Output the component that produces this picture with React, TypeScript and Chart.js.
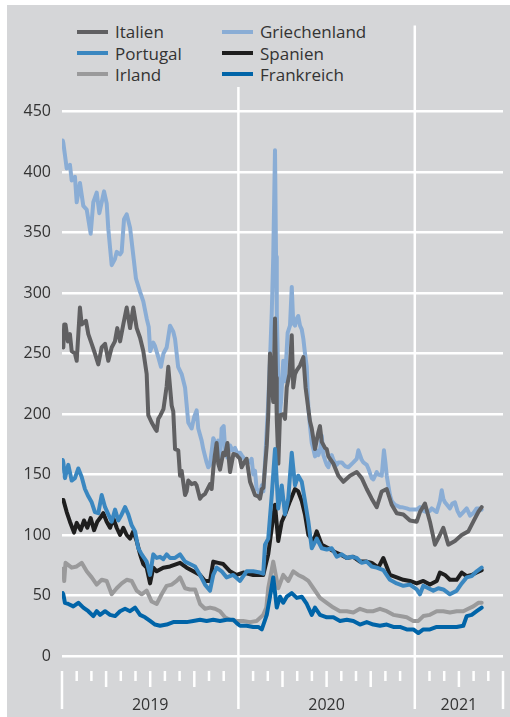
import React, { useEffect, useRef } from "react";
import { Chart, registerables } from "chart.js";

Chart.register(...registerables);

// x = months since 1 Jan 2019, y = spread value
const italien: [number, number][] = [
  [0.05, 258], [0.09, 255], [0.15, 274], [0.24, 274], [0.4, 260], [0.54, 266], [0.66, 252], [0.88, 250], [1.0, 244],
  [1.22, 288], [1.34, 274], [1.63, 277], [1.79, 266], [2.02, 258], [2.24, 250], [2.47, 241], [2.7, 255], [2.93, 258],
  [3.15, 244], [3.38, 255], [3.6, 260], [3.76, 271], [3.95, 260], [4.17, 274], [4.4, 288], [4.63, 271], [4.85, 288],
  [5.08, 271], [5.31, 263], [5.53, 252], [5.76, 233], [5.87, 199], [6.1, 193], [6.33, 188], [6.44, 186], [6.55, 196],
  [6.7, 199], [6.9, 204], [7.12, 223], [7.23, 239], [7.46, 207], [7.57, 202], [7.69, 171], [7.91, 170], [8.03, 149],
  [8.14, 153], [8.37, 133], [8.48, 136], [8.59, 145], [8.82, 142], [9.05, 143], [9.16, 141], [9.39, 130], [9.5, 132],
  [9.73, 134], [10.07, 142], [10.18, 138], [10.3, 156], [10.41, 167], [10.52, 176], [10.63, 159], [10.75, 154],
  [10.97, 168], [11.09, 166], [11.25, 176], [11.43, 152], [11.66, 167], [11.88, 166], [12.1, 163], [12.22, 156],
  [12.4, 160], [12.56, 163], [12.79, 144], [13.01, 137], [13.13, 133], [13.35, 132], [13.47, 130], [13.59, 138],
  [13.7, 139], [13.93, 174], [14.03, 199], [14.15, 250], [14.27, 225], [14.37, 210], [14.49, 279], [14.56, 230],
  [14.61, 196], [14.72, 159], [14.83, 199], [15.05, 200], [15.17, 196], [15.29, 222], [15.47, 233], [15.63, 265],
  [15.73, 222], [15.85, 233], [15.97, 236], [16.19, 240], [16.42, 247], [16.57, 222], [16.76, 204], [16.87, 194],
  [16.99, 188], [17.21, 171], [17.44, 185], [17.55, 190], [17.67, 177], [17.89, 172], [18.01, 171], [18.12, 165],
  [18.46, 159], [18.8, 149], [19.14, 144], [19.59, 149], [20.05, 152], [20.39, 147], [20.73, 138], [21.07, 130],
  [21.41, 123], [21.75, 136], [22.09, 138], [22.43, 125], [22.77, 118], [23.22, 117], [23.67, 112], [24.13, 111],
  [24.35, 119], [24.69, 126], [25.03, 111], [25.37, 92], [25.71, 100], [25.94, 106], [26.28, 92], [26.73, 95],
  [27.19, 100], [27.64, 103], [27.98, 111], [28.32, 119], [28.55, 123],
];

const griechenland: [number, number][] = [
  [0.05, 426], [0.09, 424], [0.2, 414], [0.32, 403], [0.54, 406], [0.66, 393], [0.88, 396], [1.0, 375], [1.22, 391],
  [1.45, 372], [1.68, 369], [1.95, 349], [2.13, 375], [2.36, 383], [2.54, 366], [2.7, 375], [2.86, 384], [3.04, 374],
  [3.15, 353], [3.38, 323], [3.6, 328], [3.72, 334], [3.95, 332], [4.06, 334], [4.22, 361], [4.4, 365], [4.63, 354],
  [4.85, 331], [5.03, 312], [5.31, 301], [5.53, 293], [5.76, 279], [5.9, 272], [6.0, 252], [6.21, 259], [6.33, 256],
  [6.55, 247], [6.73, 239], [6.9, 250], [7.12, 255], [7.35, 273], [7.57, 268], [7.69, 262], [7.9, 239], [8.14, 233],
  [8.37, 222], [8.59, 193], [8.82, 188], [9.0, 198], [9.16, 203], [9.27, 188], [9.5, 178], [9.61, 171], [9.84, 160],
  [9.95, 156], [10.07, 158], [10.29, 180], [10.52, 174], [10.63, 178], [10.75, 160], [10.86, 188], [11.0, 190],
  [11.1, 170], [11.25, 164], [11.43, 174], [11.6, 170], [11.77, 172], [11.9, 168], [12.11, 168], [12.22, 166],
  [12.4, 163], [12.55, 162], [12.79, 160], [12.9, 163], [13.01, 150], [13.13, 153], [13.24, 138], [13.35, 137],
  [13.47, 132], [13.59, 141], [13.7, 136], [13.81, 160], [13.93, 187], [14.03, 210], [14.15, 245], [14.27, 284],
  [14.37, 330], [14.49, 418], [14.56, 330], [14.61, 284], [14.74, 216], [14.83, 202], [14.9, 210], [15.05, 244],
  [15.17, 227], [15.35, 267], [15.51, 273], [15.63, 305], [15.73, 275], [15.85, 273], [15.97, 279], [16.07, 281],
  [16.19, 273], [16.31, 270], [16.42, 262], [16.53, 250], [16.65, 239], [16.76, 205], [16.87, 190], [16.99, 176],
  [17.1, 171], [17.21, 165], [17.33, 170], [17.44, 166], [17.55, 170], [17.67, 182], [17.78, 166], [17.89, 162],
  [18.01, 158], [18.12, 156], [18.35, 166], [18.46, 162], [18.69, 158], [18.8, 160], [19.03, 160], [19.25, 157],
  [19.48, 156], [19.82, 160], [20.05, 163], [20.16, 170], [20.39, 162], [20.5, 160], [20.73, 158], [20.84, 155],
  [21.07, 147], [21.18, 146], [21.41, 152], [21.52, 150], [21.75, 149], [21.9, 170], [22.0, 160], [22.09, 149],
  [22.31, 133], [22.43, 128], [22.65, 125], [22.99, 123], [23.11, 123], [23.45, 122], [23.67, 121], [24.01, 121],
  [24.13, 121], [24.35, 123], [24.58, 120], [24.81, 119], [25.03, 120], [25.15, 122], [25.37, 120], [25.49, 119],
  [25.71, 128], [25.83, 137], [25.94, 130], [26.05, 127], [26.39, 122], [26.56, 126], [26.73, 127], [26.9, 120],
  [27.07, 116], [27.3, 119], [27.53, 122], [27.76, 116], [27.98, 118], [28.21, 122], [28.32, 122], [28.55, 121],
];

const portugal: [number, number][] = [
  [0.05, 162], [0.09, 160], [0.2, 147], [0.43, 158], [0.66, 145], [0.88, 147], [1.11, 155], [1.34, 148], [1.56, 138],
  [1.79, 132], [2.02, 127], [2.24, 119], [2.47, 118], [2.7, 133], [2.93, 123], [3.15, 117], [3.38, 111], [3.61, 121],
  [3.83, 112], [4.06, 117], [4.29, 123], [4.51, 117], [4.74, 108], [4.97, 103], [5.19, 89], [5.42, 84], [5.76, 78],
  [5.99, 67], [6.21, 84], [6.44, 81], [6.67, 82], [6.89, 80], [7.12, 84], [7.35, 81], [7.69, 81], [8.03, 84],
  [8.37, 78], [8.71, 76], [9.05, 74], [9.39, 67], [9.73, 59], [10.07, 54], [10.29, 67], [10.52, 73], [10.86, 70],
  [11.2, 65], [11.65, 67], [12.11, 62], [12.56, 70], [13.01, 70], [13.47, 69], [13.69, 68], [13.81, 92], [14.03, 97],
  [14.27, 133], [14.49, 171], [14.71, 122], [14.95, 141], [15.17, 117], [15.39, 130], [15.63, 168], [15.85, 141],
  [16.07, 149], [16.31, 144], [16.53, 128], [16.76, 111], [16.99, 89], [17.33, 97], [17.67, 89], [18.01, 88],
  [18.35, 89], [18.69, 82], [19.03, 84], [19.37, 81], [19.71, 82], [20.05, 81], [20.39, 77], [20.73, 78], [21.07, 74],
  [21.41, 73], [21.86, 71], [22.31, 63], [22.77, 60], [23.22, 58], [23.67, 59], [24.13, 55], [24.35, 51], [24.58, 58],
  [24.92, 56], [25.26, 54], [25.6, 56], [25.94, 55], [26.39, 51], [26.85, 54], [27.19, 60], [27.53, 65], [27.87, 66],
  [28.21, 70], [28.55, 73],
];

const spanien: [number, number][] = [
  [0.05, 129], [0.09, 129], [0.32, 119], [0.54, 111], [0.82, 102], [1.0, 110], [1.27, 104], [1.5, 112], [1.72, 106],
  [1.95, 114], [2.18, 104], [2.4, 111], [2.59, 114], [2.81, 118], [3.04, 111], [3.27, 106], [3.49, 114], [3.72, 106],
  [3.95, 100], [4.17, 106], [4.4, 100], [4.63, 97], [4.85, 103], [5.08, 95], [5.31, 84], [5.53, 76], [5.76, 73],
  [5.99, 60], [6.21, 73], [6.44, 70], [6.89, 73], [7.35, 74], [8.03, 77], [8.48, 73], [8.93, 70], [9.39, 67],
  [9.73, 62], [10.07, 62], [10.29, 78], [10.63, 77], [10.97, 76], [11.43, 70], [11.88, 67], [12.33, 69], [13.01, 67],
  [13.47, 67], [13.69, 67], [14.03, 84], [14.27, 106], [14.49, 125], [14.71, 95], [14.95, 111], [15.17, 117],
  [15.51, 128], [15.85, 138], [16.07, 136], [16.31, 128], [16.53, 117], [16.76, 100], [17.1, 95], [17.33, 103],
  [17.67, 92], [18.12, 89], [18.57, 86], [18.91, 84], [19.37, 81], [19.82, 82], [20.27, 78], [20.73, 78], [21.07, 77],
  [21.52, 73], [21.86, 81], [22.31, 67], [22.77, 65], [23.22, 63], [23.67, 62], [24.13, 60], [24.58, 62], [25.03, 59],
  [25.49, 62], [25.71, 69], [26.05, 67], [26.39, 63], [26.85, 63], [27.19, 69], [27.53, 66], [27.87, 67], [28.21, 69],
  [28.55, 71],
];

const irland: [number, number][] = [
  [0.05, 72], [0.09, 71], [0.15, 62], [0.24, 77], [0.66, 73], [1.0, 74], [1.34, 77], [1.68, 70], [2.02, 65], [2.36, 59],
  [2.7, 63], [3.04, 62], [3.38, 51], [3.72, 56], [4.06, 60], [4.4, 63], [4.74, 62], [5.08, 54], [5.42, 51], [5.76, 54],
  [6.1, 45], [6.44, 43], [6.78, 51], [7.12, 58], [7.46, 59], [7.8, 62], [8.03, 65], [8.37, 56], [8.71, 55], [9.05, 55],
  [9.39, 43], [9.73, 39], [10.07, 40], [10.41, 39], [10.75, 37], [11.09, 32], [11.43, 30], [11.88, 29], [12.33, 29],
  [12.79, 28], [13.24, 29], [13.69, 34], [13.9, 40], [14.03, 56], [14.37, 78], [14.71, 56], [15.05, 67], [15.39, 62],
  [15.73, 70], [16.07, 67], [16.41, 65], [16.76, 62], [17.1, 56], [17.55, 48], [18.01, 44], [18.46, 40], [18.91, 37],
  [19.37, 37], [19.82, 36], [20.27, 39], [20.73, 37], [21.18, 37], [21.63, 39], [22.09, 37], [22.54, 34], [22.99, 33],
  [23.45, 32], [23.9, 29], [24.24, 29], [24.58, 33], [25.03, 34], [25.49, 37], [25.94, 37], [26.39, 36], [26.85, 37],
  [27.3, 37], [27.64, 39], [27.98, 41], [28.32, 44], [28.55, 44],
];

const frankreich: [number, number][] = [
  [0.05, 52], [0.09, 51], [0.2, 44], [0.43, 43], [0.77, 41], [1.11, 44], [1.45, 40], [1.79, 37], [2.13, 33], [2.36, 37],
  [2.59, 34], [2.93, 37], [3.27, 34], [3.61, 33], [3.95, 37], [4.29, 39], [4.63, 37], [4.97, 40], [5.31, 34], [5.65, 32],
  [5.99, 29], [6.33, 26], [6.67, 25], [7.12, 26], [7.57, 28], [8.03, 28], [8.48, 28], [8.93, 29], [9.39, 30], [9.84, 29],
  [10.29, 30], [10.75, 29], [11.2, 30], [11.65, 30], [11.9, 27], [12.11, 25], [12.56, 25], [13.01, 24], [13.35, 24],
  [13.59, 22], [13.93, 34], [14.15, 49], [14.37, 65], [14.61, 40], [14.83, 49], [15.05, 44], [15.29, 49], [15.63, 52],
  [15.97, 48], [16.31, 49], [16.65, 43], [16.99, 34], [17.21, 40], [17.55, 34], [18.01, 32], [18.46, 32], [18.91, 29],
  [19.37, 30], [19.82, 29], [20.27, 26], [20.73, 28], [21.18, 26], [21.63, 25], [22.09, 26], [22.54, 24], [22.99, 24],
  [23.45, 22], [23.9, 22], [24.24, 19], [24.58, 22], [25.03, 22], [25.49, 24], [25.94, 24], [26.39, 24], [26.85, 24],
  [27.3, 25], [27.53, 33], [27.87, 34], [28.21, 37], [28.55, 40],
];

const yTicks = [0, 50, 100, 150, 200, 250, 300, 350, 400, 450];
const xMin = 0;
const xMax = 30;
const yMax = 521;
const yearLabels = ["2019", "2020", "2021"];
const yearCenters = [6, 18, 27];

const BG = "#d5d6d8";
const TEXT = "#333333";
const FONT = "'Open Sans', 'Noto Sans', sans-serif";

const series = [
  { name: "Italien", data: italien, color: "#606062", order: 5 },
  { name: "Portugal", data: portugal, color: "#3a87c0", order: 2 },
  { name: "Irland", data: irland, color: "#9a9a9b", order: 4 },
  { name: "Griechenland", data: griechenland, color: "#8aadd5", order: 6 },
  { name: "Spanien", data: spanien, color: "#1e1e1e", order: 3 },
  { name: "Frankreich", data: frankreich, color: "#0064a8", order: 1 },
];

const axisPlugin = {
  id: "monthAxis",
  beforeDatasetsDraw(chart: any) {
    const { ctx, chartArea, scales } = chart;
    const x = scales.x;
    const b = chartArea.bottom;
    ctx.save();
    ctx.strokeStyle = "#ffffff";
    ctx.lineWidth = 2.5;
    for (let m = xMin; m <= xMax; m++) {
      const px = x.getPixelForValue(m);
      let y0 = b + 15;
      let y1: number;
      if (m === xMin || m === xMax) {
        y1 = b + 53;
      } else if (m % 12 === 0) {
        y0 = chartArea.top;
        y1 = b + 53;
      } else if (m % 3 === 0) {
        y1 = b + 31;
      } else {
        y1 = b + 25;
      }
      ctx.beginPath();
      ctx.moveTo(px, y0);
      ctx.lineTo(px, y1);
      ctx.stroke();
    }
    ctx.fillStyle = TEXT;
    ctx.font = `16px ${FONT}`;
    ctx.textAlign = "center";
    ctx.textBaseline = "alphabetic";
    yearLabels.forEach((lab, i) => {
      ctx.fillText(lab, x.getPixelForValue(yearCenters[i]), b + 54);
    });
    ctx.restore();
  },
};

export default function App() {
  const ref = useRef<HTMLCanvasElement | null>(null);

  useEffect(() => {
    if (!ref.current) return;
    const chart = new Chart(ref.current, {
      type: "line",
      data: {
        datasets: series.map((s) => ({
          label: s.name,
          data: s.data.map(([x, y]) => ({ x, y })),
          borderColor: s.color,
          backgroundColor: s.color,
          borderWidth: 4,
          pointRadius: 0,
          tension: 0,
          borderJoinStyle: "round" as const,
          borderCapStyle: "round" as const,
          order: s.order,
        })),
      },
      options: {
        animation: false,
        responsive: false,
        devicePixelRatio: 1,
        layout: { padding: { left: 0, right: 7, top: 12, bottom: 61 } },
        plugins: { legend: { display: false }, tooltip: { enabled: false } },
        scales: {
          x: { type: "linear", min: xMin, max: xMax, display: false },
          y: {
            type: "linear",
            min: 0,
            max: yMax,
            afterBuildTicks: (scale: any) => {
              scale.ticks = yTicks.map((v) => ({ value: v }));
            },
            afterFit: (scale: any) => {
              scale.width = 55;
            },
            border: { display: false },
            grid: { color: "#ffffff", lineWidth: 2.5, drawTicks: false },
            ticks: {
              padding: 11,
              color: TEXT,
              font: { family: FONT, size: 16 },
              callback: (v: any) => String(v),
            },
          },
        },
      },
      plugins: [axisPlugin],
    });
    return () => chart.destroy();
  }, []);

  const rowCenters = [26.7, 48.3, 69];
  const colLeft = [70, 215];

  return (
    <div
      style={{
        position: "absolute",
        left: 7,
        top: 5,
        width: 503,
        height: 712,
        background: BG,
        fontFamily: FONT,
      }}
    >
      <canvas ref={ref} width={503} height={712} style={{ display: "block" }} />
      <div
        style={{ position: "absolute", left: 62, top: 15, width: 300, height: 67, background: BG }}
      />
      {series.map((s, i) => {
        const col = Math.floor(i / 3);
        const row = i % 3;
        return (
          <div
            key={s.name}
            style={{
              position: "absolute",
              left: colLeft[col],
              top: rowCenters[row] - 11,
              height: 22,
              display: "flex",
              alignItems: "center",
              whiteSpace: "nowrap",
              fontSize: 17,
              color: TEXT,
            }}
          >
            <span
              style={{ display: "inline-block", width: 31, height: 4, background: s.color, marginRight: 7 }}
            />
            <span>{s.name}</span>
          </div>
        );
      })}
    </div>
  );
}
